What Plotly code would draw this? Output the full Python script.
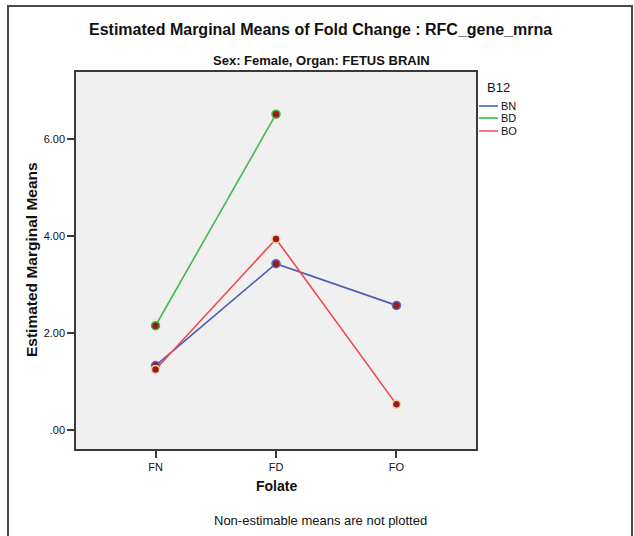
import plotly.graph_objects as go

categories = ["FN", "FD", "FO"]
series_names = ["BN", "BD", "BO"]
bn_values = [1.33, 3.43, 2.57]
bd_values = [2.15, 6.51, None]
bo_values = [1.25, 3.94, 0.53]
ytick_vals = [0, 2, 4, 6]
ytick_text = [".00", "2.00", "4.00", "6.00"]

series_values = [bn_values, bd_values, bo_values]
line_colors = ["#4a5cb8", "#3dbb4e", "#f04850"]
legend_colors = ["#6f80cc", "#5cc86a", "#f77a80"]
marker_edge = ["#5a6ad0", "#3dbb4e", "#e8d8a8"]
marker_fill = "#a01818"

FONT = "Liberation Sans, Arial, sans-serif"
W, H = 634, 536
L, R, T, B = 76, 476, 72, 449
pw, ph = R - L, B - T


def px(x):
    return (x - L) / pw


def py(y):
    return (B - y) / ph


fig = go.Figure()
xidx = list(range(len(categories)))
for name, vals, lc, me in zip(series_names, series_values, line_colors, marker_edge):
    xs = [i for i, v in zip(xidx, vals) if v is not None]
    ys = [v for v in vals if v is not None]
    fig.add_trace(go.Scatter(
        x=xs, y=ys, mode="lines+markers", name=name,
        line=dict(color=lc, width=1.6),
        marker=dict(size=8, color=marker_fill, line=dict(color=me, width=1.5)),
        showlegend=False,
    ))

axis_common = dict(showline=True, linecolor="#3a3a3a", linewidth=1.5, mirror=True,
                   showgrid=False, zeroline=False, ticks="outside", ticklen=7,
                   tickcolor="#3a3a3a", tickwidth=1.5,
                   tickfont=dict(family=FONT, size=11, color="#111"))

fig.update_layout(
    width=W, height=H,
    margin=dict(l=L, r=W - R, t=T, b=H - B),
    paper_bgcolor="white", plot_bgcolor="#f0f0f0",
    xaxis=dict(range=[-0.66, 2.66], tickmode="array", tickvals=xidx,
               ticktext=categories, **axis_common),
    yaxis=dict(range=[-0.39, 7.38], tickmode="array", tickvals=ytick_vals,
               ticktext=ytick_text, **axis_common),
    font=dict(family=FONT, color="#111"),
)

ann = [
    dict(text="<b>Estimated Marginal Means of Fold Change : RFC_gene_mrna</b>",
         x=px(320), y=py(30), size=16),
    dict(text="<b>Sex: Female, Organ: FETUS BRAIN</b>", x=px(321), y=py(60), size=13),
    dict(text="<b>Folate</b>", x=px(276), y=py(486), size=14),
    dict(text="Non-estimable means are not plotted", x=px(320), y=py(520), size=13),
]
for a in ann:
    fig.add_annotation(text=a["text"], x=a["x"], y=a["y"], xref="paper", yref="paper",
                       showarrow=False, xanchor="center", yanchor="middle",
                       font=dict(family=FONT, size=a["size"], color="#111"))

fig.add_annotation(text="<b>Estimated Marginal Means</b>", x=px(31), y=py(260),
                   xref="paper", yref="paper", showarrow=False, textangle=-90,
                   xanchor="center", yanchor="middle",
                   font=dict(family=FONT, size=15.5, color="#111"))

# legend (manual)
fig.add_annotation(text="B12", x=px(485), y=py(87), xref="paper", yref="paper",
                   showarrow=False, xanchor="left", yanchor="middle",
                   font=dict(family=FONT, size=13, color="#111"))
leg_y = [106, 118, 131]
for name, col, yy in zip(series_names, legend_colors, leg_y):
    fig.add_shape(type="line", xref="paper", yref="paper",
                  x0=px(479), x1=px(498), y0=py(yy), y1=py(yy),
                  line=dict(color=col, width=2))
    fig.add_annotation(text=name, x=px(499), y=py(yy), xref="paper", yref="paper",
                       showarrow=False, xanchor="left", yanchor="middle",
                       font=dict(family=FONT, size=11, color="#111"))

# outer frame
fig.add_shape(type="rect", xref="paper", yref="paper",
              x0=px(8), x1=px(632), y0=py(560), y1=py(6),
              line=dict(color="#4a4a4a", width=2), fillcolor="rgba(0,0,0,0)",
              layer="below")

fig.write_html("out.html")
